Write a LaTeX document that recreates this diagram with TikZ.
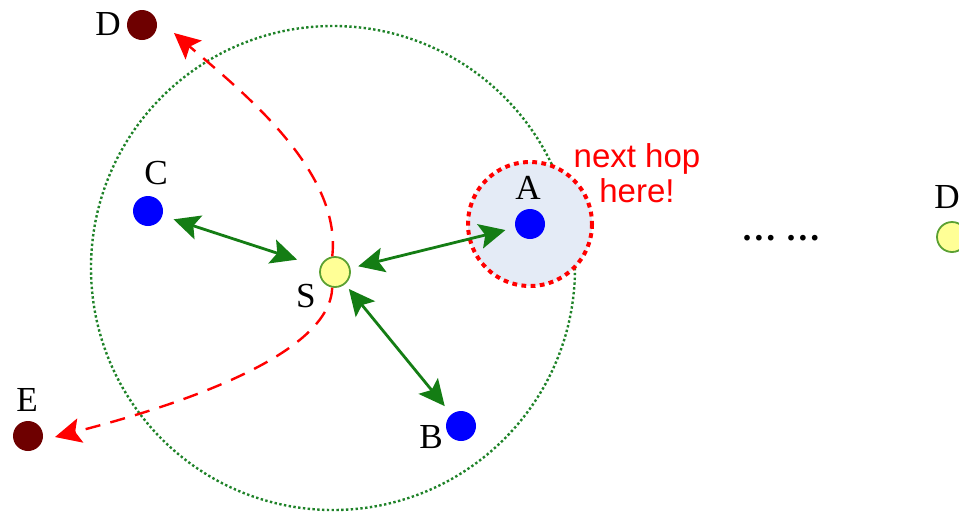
\documentclass[tikz,border=0pt]{standalone}
\usepackage{fontspec}
\setmainfont{Liberation Serif}
\newfontfamily\notefont{Liberation Sans}
\usetikzlibrary{arrows.meta}
\definecolor{linkgreen}{RGB}{20,125,20}
\definecolor{rangegreen}{RGB}{30,130,40}
\definecolor{hostblue}{RGB}{0,0,255}
\definecolor{farred}{RGB}{110,0,0}
\definecolor{srcyellow}{RGB}{255,255,150}
\definecolor{srcedge}{RGB}{90,160,50}
\definecolor{hopfill}{RGB}{228,235,246}
\begin{document}
\begin{tikzpicture}[x=0.25mm, y=-0.25mm,
  host/.style={circle, inner sep=0pt, minimum size=7.5mm},
  tag/.style={font=\fontsize{25}{30}\selectfont, inner sep=0pt},
  link/.style={linkgreen, line width=0.7mm, {Stealth[length=6.5mm,width=6.2mm,inset=1.3mm]}-{Stealth[length=6.5mm,width=6.2mm,inset=1.3mm]}},
  route/.style={red, line width=0.6mm, dash pattern=on 3.8mm off 2.6mm, -{Stealth[length=6.5mm,width=6.2mm,inset=1.3mm]}}]
\useasboundingbox (0,0) rectangle (959,512);

% radio range and next hop
\draw[rangegreen, line width=0.6mm, dash pattern=on 0.6mm off 0.6mm] (333,268) circle [radius=242];
\draw[red, fill=hopfill, line width=1mm, dash pattern=on 1.2mm off 1.1mm] (530,224) circle [radius=62];
\node[red, align=center, font=\notefont\fontsize{23.5}{25}\selectfont] (note) at (637,173) {next hop\\here!};

% nodes
\node[host, draw=srcedge, line width=0.45mm, fill=srcyellow] (S) at (335,272) {};
\node[host, fill=hostblue] (C) at (148,211) {};
\node[host, fill=hostblue] (A) at (530,224) {};
\node[host, fill=hostblue] (B) at (461,426) {};
\node[host, fill=farred] (D) at (142,25) {};
\node[host, fill=farred] (E) at (28,436) {};
\node[host, draw=srcedge, line width=0.45mm, fill=srcyellow] (Dfar) at (952,237) {};

% labels
\node[tag] (Slabel) at (306,296) {S};
\node[tag] (Clabel) at (156,173) {C};
\node[tag] (Alabel) at (528,188) {A};
\node[tag] (Blabel) at (431,437) {B};
\node[tag] (Dlabel) at (108,24) {D};
\node[tag] (Elabel) at (27,400) {E};
\node[tag] (Dfarlabel) at (947,197) {D};
\node[tag] (dots) at (781,238) {\textbf{\dots\ \dots}};

% one-hop links
\draw[link, shorten <=2.9mm, shorten >=6mm] (C) -- (S);
\draw[link, shorten <=2mm, shorten >=2.5mm] (S) -- (A);
\draw[link, shorten <=1.5mm, shorten >=2.6mm] (S) -- (B);

% routes
\coordinate (Dtip) at (174,33);
\coordinate (Etip) at (55,437);
\draw[route] (S.100) .. controls (342,170) and (240,90) .. (Dtip);
\draw[route] (S.260) .. controls (330,350) and (200,400) .. (Etip);
\end{tikzpicture}
\end{document}
